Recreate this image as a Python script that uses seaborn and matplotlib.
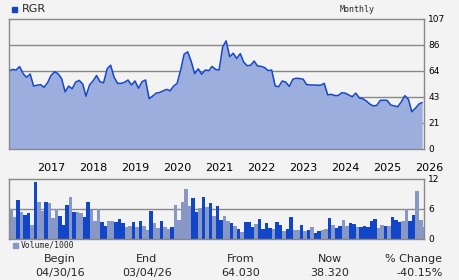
import matplotlib
matplotlib.use("Agg")
import matplotlib.pyplot as plt
import seaborn as sns
import pandas as pd

# ---------------- data ----------------
ticker = "RGR"
period = "Monthly"
start_date = "2016-04-30"

price = [64.2, 65.5, 65.0, 67.8, 62.0, 59.0, 61.7, 51.8, 52.5, 52.9,
         50.8, 54.5, 60.5, 63.6, 62.0, 58.0, 47.0, 51.8, 49.6, 55.0,
         56.5, 53.5, 43.5, 52.7, 56.0, 60.5, 55.4, 54.5, 66.0, 69.0,
         59.0, 54.0, 54.0, 55.0, 56.8, 52.7, 56.0, 50.0, 55.4, 56.8,
         41.4, 43.5, 46.0, 46.5, 47.9, 49.1, 47.9, 51.8, 54.0, 65.0,
         78.0, 80.0, 72.0, 62.0, 66.0, 61.5, 65.0, 64.5, 68.0, 65.5,
         65.0, 84.0, 89.0, 76.0, 78.8, 74.5, 78.5, 71.5, 68.5, 69.0,
         72.4, 68.3, 68.0, 67.0, 64.5, 65.0, 51.8, 51.3, 56.0, 55.0,
         51.5, 57.4, 58.2, 58.0, 57.5, 53.0, 52.7, 52.7, 52.5, 52.5,
         54.0, 44.6, 45.0, 44.0, 44.0, 46.3, 46.0, 44.5, 43.0, 46.0,
         42.0, 41.4, 39.5, 37.0, 35.4, 36.0, 40.0, 40.2, 40.0, 36.2,
         35.5, 34.8, 38.9, 43.9, 41.0, 30.7, 33.5, 37.0, 38.3]

volume = [6.1, 4.5, 7.8, 5.4, 4.9, 5.2, 2.9, 11.5, 7.4, 5.6,
          7.4, 7.2, 4.3, 6.1, 4.7, 2.9, 6.8, 8.4, 5.4, 5.4,
          5.2, 4.5, 7.4, 5.8, 3.7, 6.1, 3.5, 2.7, 3.7, 3.7,
          3.5, 4.1, 3.3, 2.5, 2.7, 3.5, 2.5, 3.7, 2.7, 1.9,
          5.6, 3.3, 2.3, 3.7, 2.5, 2.1, 2.5, 6.8, 3.9, 7.4,
          10.0, 6.6, 8.2, 5.4, 6.2, 8.4, 6.4, 7.2, 4.7, 6.6,
          3.9, 4.7, 3.7, 3.3, 2.7, 2.1, 1.5, 3.5, 3.5, 2.5,
          3.1, 4.1, 2.1, 3.3, 2.3, 2.1, 3.5, 2.9, 1.7, 2.1,
          4.5, 1.9, 1.9, 2.9, 1.7, 1.9, 2.5, 1.3, 1.7, 1.9,
          2.1, 4.3, 2.9, 2.3, 2.7, 3.9, 2.7, 3.3, 3.1, 2.5,
          2.5, 2.7, 2.5, 3.7, 4.1, 2.3, 2.9, 2.7, 2.7, 4.5,
          3.9, 3.5, 3.7, 6.1, 3.7, 4.9, 9.6, 3.9, 2.5]

# 'd' = dark bar, 'l' = light bar (one letter per month)
vol_kind = list("lldlddldll" "dllldddldl" "lddlllddll" "dddlldldll"
                "dlldlldlll" "llddldldld" "dlldldlddd" "lddddlddld"
                "dlldldlddl" "ldlddllddl" "dddddlldld" "ddllddlll")

price_ticks = [0, 21.4, 42.8, 64.2, 85.6, 107]
price_tick_labels = ["0", "21", "43", "64", "86", "107"]
vol_ticks = [0, 6, 12]
vol_tick_labels = ["0", "6", "12"]
year_labels = ["2017", "2018", "2019", "2020", "2021", "2022",
               "2023", "2024", "2025", "2026"]

summary_heads = ["Begin", "End", "From", "Now", "% Change"]
summary_vals = ["04/30/16", "03/04/26", "64.030", "38.320", "-40.15%"]

# ---------------- build ----------------
n = len(price)
dates = pd.date_range(start_date, periods=n, freq="ME")
kinds = (vol_kind + ["l"] * n)[:n]
df = pd.DataFrame({"date": dates, "price": price, "volume": volume, "kind": kinds})

BG = "#f3f3f3"
LINE = "#1646c8"
FILL = "#9caede"
DARK = "#1246c8"
LIGHT = "#8797c6"
GRID = "#888888"

sns.set_theme(style="white")
plt.rcParams["font.family"] = ["DejaVu Sans"]

fig = plt.figure(figsize=(4.6, 2.8), dpi=100, facecolor=BG)
W, H = 460, 280

def axrect(x0, y0, x1, y1):
    return [x0 / W, 1 - y1 / H, (x1 - x0) / W, (y1 - y0) / H]

ax = fig.add_axes(axrect(9, 19, 424, 149))
axv = fig.add_axes(axrect(9, 179, 424, 239))

xmin = dates[0]
xmax = dates[-1] + pd.Timedelta(days=16)

# price panel
ax.set_facecolor(BG)
for yv in price_ticks[1:-1]:
    ax.axhline(yv, color=GRID, lw=1.0, zorder=0)
ax.fill_between(df["date"], df["price"], 0, color=FILL, lw=0, zorder=1)
sns.lineplot(data=df, x="date", y="price", ax=ax, color=LINE, lw=1.1, zorder=2)
ax.set_xlim(xmin, xmax)
ax.set_ylim(0, 107)
ax.set_yticks(price_ticks)
ax.set_yticklabels(price_tick_labels)
ax.yaxis.tick_right()
ax.tick_params(axis="y", length=0, pad=3, labelsize=6.5, colors="#000000")
ax.set_xticks([])
ax.set_xlabel("")
ax.set_ylabel("")
for s in ax.spines.values():
    s.set_color(GRID)
    s.set_linewidth(1.0)

# volume panel
axv.set_facecolor(BG)
axv.axhline(6, color=GRID, lw=1.0, zorder=0)
bar_colors = [DARK if k == "d" else LIGHT for k in df["kind"]]
axv.bar(df["date"], df["volume"], width=31, align="edge",
        color=bar_colors, lw=0, zorder=1)
axv.set_xlim(xmin, xmax)
axv.set_ylim(0, 12)
axv.set_yticks(vol_ticks)
axv.set_yticklabels(vol_tick_labels)
axv.yaxis.tick_right()
axv.tick_params(axis="y", length=0, pad=3, labelsize=6.5, colors="#000000")
jan = [pd.Timestamp(f"{y}-01-01") for y in year_labels]
axv.set_xticks(jan)
axv.set_xticklabels(year_labels, ha="left")
axv.xaxis.tick_top()
axv.tick_params(axis="x", length=0, pad=4, labelsize=8, colors="#000000")
axv.set_xlabel("")
axv.set_ylabel("")
for s in axv.spines.values():
    s.set_color(GRID)
    s.set_linewidth(1.0)

# legends / header
def ftext(x, y, s, **kw):
    fig.text(x / W, 1 - y / H, s, **kw)

fig.patches.append(plt.Rectangle((12 / W, 1 - 12 / H), 5 / W, 5 / H,
                                 transform=fig.transFigure, color=DARK))
ftext(22, 9.5, ticker, fontsize=8, va="center", ha="left")
ftext(357, 9.5, period, fontsize=6, va="center", ha="center",
      family="DejaVu Sans Mono")
fig.patches.append(plt.Rectangle((13 / W, 1 - 248 / H), 5 / W, 5 / H,
                                 transform=fig.transFigure, color=LIGHT))
ftext(21, 245.5, "Volume/1000", fontsize=5.8, va="center", ha="left",
      family="DejaVu Sans Mono")

head_x = [60, 147, 241, 330, 414]
val_x = [60, 147, 241, 330, 420]
for hx, vx, h, v in zip(head_x, val_x, summary_heads, summary_vals):
    ftext(hx, 259, h, fontsize=8, va="center", ha="center")
    ftext(vx, 273, v, fontsize=8, va="center", ha="center")

fig.savefig("out.png", dpi=100, facecolor=BG)
